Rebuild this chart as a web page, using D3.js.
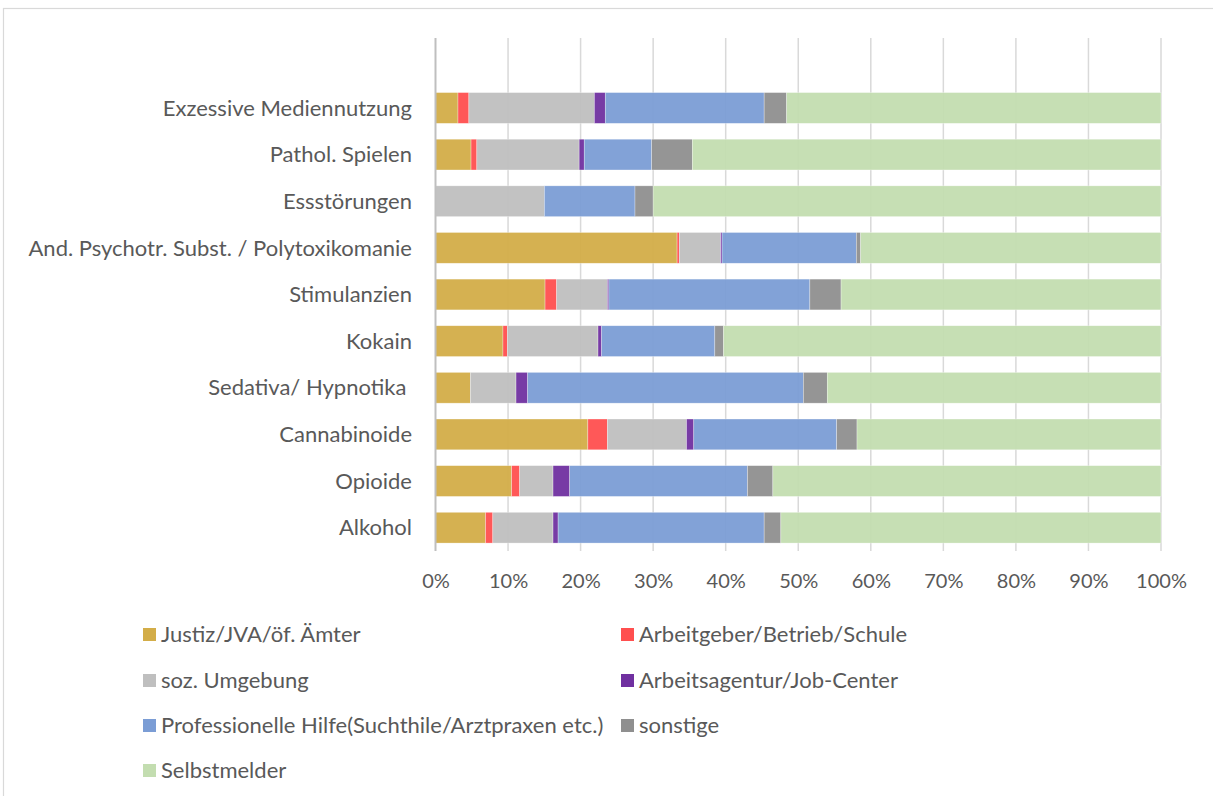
<!DOCTYPE html>
<html>
<head>
<meta charset="utf-8">
<script src="https://cdn.jsdelivr.net/npm/d3@7"></script>
<style>
  body { margin: 0; background: #fff; }
  text { font-family: Lato, "Open Sans", sans-serif; fill: #595959; }
</style>
</head>
<body>
<div id="chart"></div>
<script>
// Kategorien von oben nach unten
const categories = [
    "Exzessive Mediennutzung",
    "Pathol. Spielen",
    "Essstörungen",
    "And. Psychotr. Subst. / Polytoxikomanie",
    "Stimulanzien",
    "Kokain",
    "Sedativa/ Hypnotika ",
    "Cannabinoide",
    "Opioide",
    "Alkohol"
];

const seriesNames = [
    "Justiz/JVA/öf. Ämter",
    "Arbeitgeber/Betrieb/Schule",
    "soz. Umgebung",
    "Arbeitsagentur/Job-Center",
    "Professionelle Hilfe(Suchthile/Arztpraxen etc.)",
    "sonstige",
    "Selbstmelder"
];

// Anteile in %
const justiz        = [3.1, 4.9, 0.0, 33.3, 15.1, 9.3, 4.8, 21.0, 10.5, 6.9];
const arbeitgeber   = [1.5, 0.8, 0.0, 0.3, 1.6, 0.6, 0.0, 2.7, 1.1, 1.0];
const umgebung      = [17.3, 14.1, 15.0, 5.7, 7.0, 12.5, 6.3, 10.9, 4.6, 8.3];
const agentur       = [1.5, 0.7, 0.0, 0.2, 0.2, 0.5, 1.6, 1.0, 2.3, 0.7];
const professionell = [21.9, 9.3, 12.5, 18.5, 27.7, 15.6, 38.0, 19.7, 24.5, 28.4];
const sonstige      = [3.1, 5.6, 2.5, 0.6, 4.3, 1.2, 3.3, 2.8, 3.5, 2.3];
const selbstmelder  = [51.6, 64.6, 70.0, 41.4, 44.1, 60.3, 46.0, 41.9, 53.5, 52.4];

const tickValues = [0, 0.1, 0.2, 0.3, 0.4, 0.5, 0.6, 0.7, 0.8, 0.9, 1];

const colors = ["#d3ad48", "#ff4f4f", "#bfbfbf", "#7030a0", "#7b9dd5", "#8f8f8f", "#c3ddb0"];

const allSeries = [justiz, arbeitgeber, umgebung, agentur, professionell, sonstige, selbstmelder];

const rows = categories.map((c, i) => {
    let r = { cat: c };
    seriesNames.forEach((s, k) => { r[s] = allSeries[k][i]; });
    return r;
});

const W = 1213, H = 796;

let svg = d3.select("#chart").append("svg")
    .attr("width", W)
    .attr("height", H);

// Rahmen
svg.append("rect")
    .attr("x", 3.5).attr("y", 8.5)
    .attr("width", 1300).attr("height", 900)
    .style("fill", "#fff")
    .style("stroke", "#d9d9d9")
    .style("stroke-width", 1.2);

const x = d3.scaleLinear().domain([0, 1]).range([435.5, 1161]);
// leere Kategorie oben wie in der Vorlage
const y = d3.scaleBand()
    .domain([""].concat(categories))
    .range([38, 551])
    .paddingInner(0.34)
    .paddingOuter(0.17);

// Gitterlinien
svg.append("g")
    .selectAll("line")
    .data(tickValues.slice(1))
    .join("line")
    .attr("x1", d => x(d)).attr("x2", d => x(d))
    .attr("y1", 38).attr("y2", 551)
    .style("stroke", "#d9d9d9")
    .style("stroke-width", 1.5);

const stack = d3.stack()
    .keys(seriesNames)
    .offset(d3.stackOffsetExpand);
const layers = stack(rows);

svg.append("g")
    .selectAll("g")
    .data(layers)
    .join("g")
    .attr("fill", (d, i) => colors[i])
    .attr("fill-opacity", 0.95)
    .selectAll("rect")
    .data(d => d)
    .join("rect")
    .attr("x", d => x(d[0]))
    .attr("width", d => Math.max(0, x(d[1]) - x(d[0])))
    .attr("y", d => y(d.data.cat))
    .attr("height", y.bandwidth())
    .style("stroke", "#fff")
    .style("stroke-width", 0.6)
    .style("stroke-opacity", 0.5);

// Nullachse
svg.append("line")
    .attr("x1", x(0)).attr("x2", x(0))
    .attr("y1", 38).attr("y2", 551)
    .style("stroke", "#bfbfbf")
    .style("stroke-width", 2);

// Kategorie-Beschriftung
svg.append("g")
    .selectAll("text")
    .data(categories)
    .join("text")
    .attr("x", 412)
    .attr("y", d => y(d) + y.bandwidth() / 2)
    .attr("dy", "0.35em")
    .attr("text-anchor", "end")
    .style("font-size", "22px")
    .style("white-space", "pre")
    .text(d => d);

// x-Achse
const xAxis = d3.axisBottom(x)
    .tickValues(tickValues)
    .tickFormat(d3.format(".0%"))
    .tickSize(0)
    .tickPadding(0);

let ax = svg.append("g")
    .attr("transform", "translate(0,574)")
    .call(xAxis);
ax.select(".domain").remove();
ax.selectAll("text")
    .style("font-family", "Lato, sans-serif")
    .style("font-size", "20px")
    .attr("fill", "#595959");

// Legende
const legendPos = [
    [143, 634], [621, 634],
    [143, 680], [621, 680],
    [143, 725], [621, 725],
    [143, 770]
];

let lg = svg.append("g")
    .selectAll("g")
    .data(seriesNames)
    .join("g")
    .attr("transform", (d, i) => "translate(" + legendPos[i][0] + "," + legendPos[i][1] + ")");

lg.append("rect")
    .attr("x", 0).attr("y", -6)
    .attr("width", 13).attr("height", 13)
    .attr("fill", (d, i) => colors[i]);

lg.append("text")
    .attr("x", 18)
    .attr("dy", "0.35em")
    .style("font-size", "22px")
    .text(d => d);
</script>
</body>
</html>
